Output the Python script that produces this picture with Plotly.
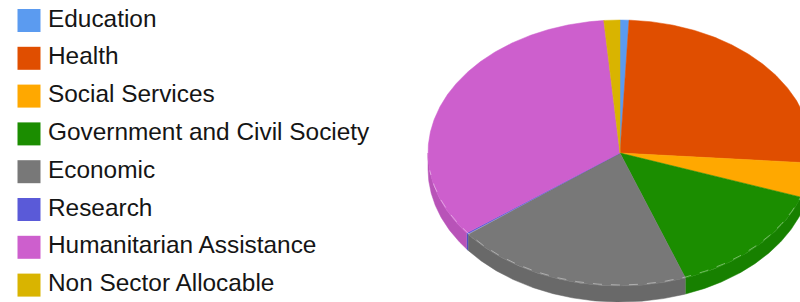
import numpy as np
import plotly.graph_objects as go

# ---- data ----
categories = ["Education", "Health", "Social Services", "Government and Civil Society",
              "Economic", "Research", "Humanitarian Assistance", "Non Sector Allocable"]
values = [0.75, 25.5, 4.2, 14.1, 20.1, 0.2, 34.0, 1.35]
colors = ["#5b9bf0", "#e04e00", "#ffa800", "#1b8d00", "#787878", "#5a5ad8", "#cd5fcd", "#d9b400"]
side_colors = ["#4f88d6", "#c44400", "#e09400", "#178000", "#696969", "#4f4fc0", "#b853b8", "#c0a000"]

# ---- geometry (layout, pixel-like axis units) ----
W, H = 800, 302
cx, cy = 620, 153
rx, ry = 192, 133
depth = 16

fig = go.Figure()

vals = np.array(values, dtype=float)
frac = vals / vals.sum()
ends = np.cumsum(frac) * 360.0
starts = ends - frac * 360.0


def rim(t0, t1, n=None):
    if n is None:
        n = max(4, int(abs(t1 - t0) * 2) + 2)
    t = np.radians(np.linspace(t0, t1, n))
    return cx + rx * np.sin(t), cy - ry * np.cos(t)

# side walls (front half: 90..270 degrees)
for i in range(len(categories)):
    a0, a1 = max(starts[i], 90), min(ends[i], 270)
    if a1 <= a0:
        continue
    x, y = rim(a0, a1)
    px = np.concatenate([x, x[::-1]])
    py = np.concatenate([y, (y + depth)[::-1]])
    fig.add_trace(go.Scatter(x=px, y=py, fill="toself", mode="lines",
                             line=dict(width=0.5, color=side_colors[i]),
                             fillcolor=side_colors[i], showlegend=False, hoverinfo="skip"))

# top faces
for i in range(len(categories)):
    x, y = rim(starts[i], ends[i])
    px = np.concatenate([[cx], x, [cx]])
    py = np.concatenate([[cy], y, [cy]])
    fig.add_trace(go.Scatter(x=px, y=py, fill="toself", mode="lines",
                             line=dict(width=0.5, color=colors[i]),
                             fillcolor=colors[i], name=categories[i], showlegend=False,
                             hoverinfo="name"))

# subtle highlight along the front rim
x, y = rim(100, 262)
fig.add_trace(go.Scatter(x=x, y=y - 1, mode="lines",
                         line=dict(width=1, color="rgba(255,255,255,0.4)", dash="dash"),
                         showlegend=False, hoverinfo="skip"))

# legend (square swatches + labels)
leg_y = [20.5 + 37.8 * i for i in range(len(categories))]
fig.add_trace(go.Scatter(x=[29] * len(categories), y=leg_y, mode="markers",
                         marker=dict(symbol="square", size=23, color=colors),
                         showlegend=False, hoverinfo="skip", cliponaxis=False))
fig.add_trace(go.Scatter(x=[48] * len(categories), y=leg_y, mode="text",
                         text=categories, textposition="middle right",
                         textfont=dict(family="Liberation Sans, Arial, sans-serif", size=24.4, color="#151515"),
                         showlegend=False, hoverinfo="skip", cliponaxis=False))

fig.update_layout(
    width=W, height=H,
    margin=dict(l=0, r=0, t=0, b=0),
    paper_bgcolor="white", plot_bgcolor="white",
    xaxis=dict(range=[0, W], visible=False, fixedrange=True),
    yaxis=dict(range=[H, 0], visible=False, fixedrange=True),
    showlegend=False,
)

fig.write_html("out.html", config={"displayModeBar": False},
               post_script="document.body.style.margin='0';")
